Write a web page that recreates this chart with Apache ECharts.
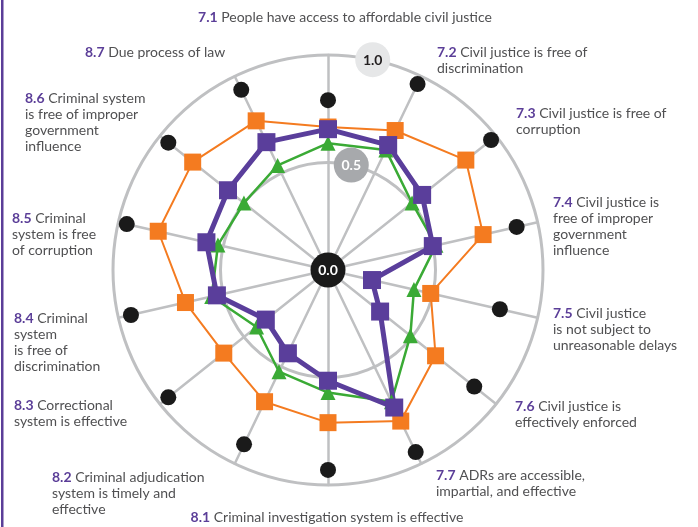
<!DOCTYPE html>
<html>
<head>
<meta charset="utf-8">
<script src="https://cdn.jsdelivr.net/npm/echarts@6/dist/echarts.min.js"></script>
<style>
  html, body { margin: 0; padding: 0; background: #fff; }
  #chart { width: 698px; height: 527px; }
</style>
</head>
<body>
<div id="chart"></div>
<script>
// indicator codes, clockwise from the top
const indicators = ['7.1', '7.2', '7.3', '7.4', '7.5', '7.6', '7.7', '8.1', '8.2', '8.3', '8.4', '8.5', '8.6', '8.7'];
const labelLines = [
  ['People have access to affordable civil justice'],
  ['Civil justice is free of', 'discrimination'],
  ['Civil justice is free of', 'corruption'],
  ['Civil justice is', 'free of improper', 'government', 'influence'],
  ['Civil justice', 'is not subject to', 'unreasonable delays'],
  ['Civil justice is', 'effectively enforced'],
  ['ADRs are accessible,', 'impartial, and effective'],
  ['Criminal investigation system is effective'],
  ['Criminal adjudication', 'system is timely and', 'effective'],
  ['Correctional', 'system is effective'],
  ['Criminal', 'system', 'is free of', 'discrimination'],
  ['Criminal', 'system is free', 'of corruption'],
  ['Criminal system', 'is free of improper', 'government', 'influence'],
  ['Due process of law']
];
const topScores = [0.79, 0.96, 0.97, 0.90, 0.82, 0.87, 0.94, 0.93, 0.90, 0.95, 0.94, 0.96, 0.95, 0.93];   // black dots
const regionScores = [0.665, 0.72, 0.82, 0.74, 0.49, 0.64, 0.78, 0.71, 0.68, 0.62, 0.68, 0.81, 0.805, 0.77]; // orange
const incomeScores = [0.59, 0.62, 0.50, 0.515, 0.41, 0.49, 0.68, 0.57, 0.525, 0.425, 0.555, 0.525, 0.50, 0.54]; // green
const countryScores = [0.655, 0.645, 0.56, 0.50, 0.21, 0.31, 0.71, 0.515, 0.43, 0.37, 0.53, 0.58, 0.595, 0.66]; // purple
const ringTicks = ['0.0', '0.5', '1.0'];

const CX = 328, CY = 270, R = 215;
// where each label block sits: [x, y of first line, align]
const labelPos = [
  [345, 17, 'center'], [437, 52, 'left'], [516, 113, 'left'], [553, 202, 'left'],
  [553, 313, 'left'], [515, 406, 'left'], [436, 475, 'left'], [327, 517, 'center'],
  [52, 477, 'left'], [14, 405, 'left'], [14, 318, 'left'], [12, 218, 'left'],
  [25, 98, 'left'], [85, 52, 'left']
];

// echarts radar runs counter-clockwise, so flip the order after the first axis
const order = [0];
for (let i = indicators.length - 1; i > 0; i--) order.push(i);
const pick = arr => order.map(i => arr[i]);

const chart = echarts.init(document.getElementById('chart'));

function polar(v, deg) {
  const a = deg * Math.PI / 180;
  return [CX + R * v * Math.sin(a), CY - R * v * Math.cos(a)];
}

const graphics = [];
graphics.push({ type: 'rect', shape: { x: 1, y: 0, width: 2.5, height: 527 }, style: { fill: '#5b3e98' }, z: 10 });

labelPos.forEach((p, i) => {
  const lines = labelLines[i].slice();
  lines[0] = '{n|' + indicators[i] + '} ' + lines[0];
  graphics.push({
    type: 'text', x: p[0], y: p[1] - 8, z: 20,
    style: {
      text: lines.join('\n'),
      align: p[2], verticalAlign: 'top',
      fontFamily: 'Lato', fontSize: 14, lineHeight: 16, fill: '#505052',
      rich: {
        n: { fontFamily: 'Lato', fontSize: 14, lineHeight: 16, fontWeight: 'bold', fill: '#5b3e98' }
      }
    }
  });
});

// ring value badges
const badges = [
  { v: 0, deg: 0, fill: '#1a1a1a', text: '#fff' },
  { v: 0.5, deg: 12.5, fill: '#a7a9ac', text: '#fff' },
  { v: 1, deg: 12, fill: '#e6e7e8', text: '#231f20' }
];
badges.forEach((b, i) => {
  const [x, y] = polar(b.v, b.deg);
  graphics.push({ type: 'circle', shape: { cx: x, cy: y, r: 17.5 }, style: { fill: b.fill }, z: 30 });
  graphics.push({
    type: 'text', x: x, y: y + 0.5, z: 31,
    style: { text: ringTicks[i], align: 'center', verticalAlign: 'middle', fontFamily: 'Lato', fontSize: 14, fontWeight: 'bold', fill: b.text }
  });
});

function lineSeries(name, values, color, symbol, size, width) {
  return {
    type: 'radar', name: name, z: 2,
    symbol: symbol, symbolSize: size,
    itemStyle: { color: color },
    lineStyle: { color: color, width: width, opacity: width ? 1 : 0 },
    data: [{ value: pick(values), name: name }]
  };
}

chart.setOption({
  animation: false,
  radar: {
    center: [CX, CY],
    radius: R,
    startAngle: 90,
    shape: 'circle',
    splitNumber: 2,
    indicator: order.map(i => ({ name: indicators[i], min: 0, max: 1 })),
    axisName: { show: false },
    axisLine: { lineStyle: { color: '#bfc0c2', width: 2.5 } },
    axisTick: { show: false },
    axisLabel: { show: false },
    splitLine: { lineStyle: { color: '#bfc0c2', width: 3 } },
    splitArea: { show: false }
  },
  series: [
    lineSeries('Top performer', topScores, '#1a1a1a', 'circle', 16, 0),
    lineSeries('Region', regionScores, '#f47b20', 'rect', 17, 2),
    lineSeries('Income group', incomeScores, '#3aaa35', 'triangle', 15, 2.5),
    lineSeries('Country', countryScores, '#5a3e9b', 'rect', 18, 5)
  ],
  graphic: graphics
});
</script>
</body>
</html>
